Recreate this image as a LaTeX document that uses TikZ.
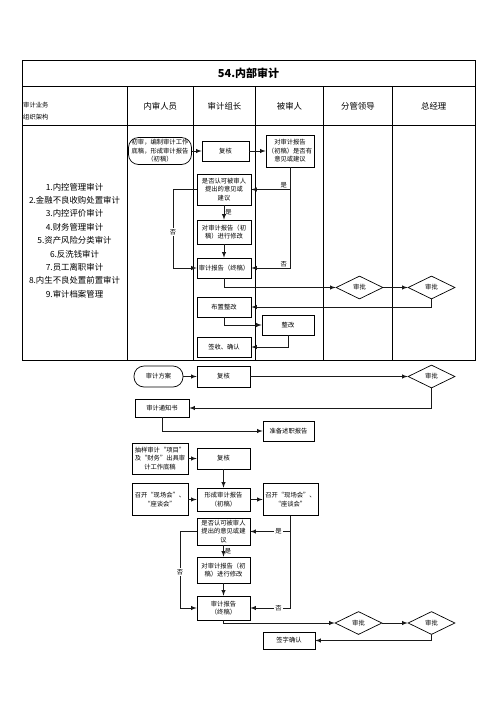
\documentclass[tikz,border=0pt]{standalone}
\usepackage{fontspec}
\setmainfont{Noto Sans CJK SC}
\usetikzlibrary{shapes.geometric}

\begin{document}
\begin{tikzpicture}[x=1pt, y=-1pt, >=latex]
    % Define colours
    \definecolor{borderColour}{HTML}{000000}
    \definecolor{lineColour}{HTML}{1A1A1A}

    % Define styles
    \tikzset{
        box/.style={draw=borderColour, line width=0.7pt, align=center, inner sep=1pt, font=\fontsize{6.3}{8.5}\selectfont},
        pill/.style={box, rounded corners=10pt},
        decision/.style={draw=borderColour, line width=0.7pt, diamond, aspect=2, inner sep=0pt, minimum width=47pt, minimum height=23pt, font=\fontsize{6.3}{8}\selectfont},
        flow/.style={->, line width=0.9pt, draw=lineColour},
        tag/.style={font=\fontsize{6.3}{8}\selectfont, inner sep=1pt},
        grid/.style={line width=0.8pt, draw=borderColour}
    }

    \useasboundingbox (0,0) rectangle (496,702);

    % Draw table frame
    \draw[grid] (22,60) rectangle (475,360);
    \draw[grid] (22,86) -- (475,86);
    \draw[grid] (22,125) -- (475,125);
    \foreach \x in {127.3,193.3,255.7,323.3,392.5}
        \draw[grid] (\x,86) -- (\x,360);

    % Title and column headings
    \node[font=\bfseries\fontsize{11}{13}\selectfont] (title) at (248.5,73) {54.内部审计};
    \node[font=\fontsize{6.3}{8}\selectfont, anchor=west, inner sep=0pt] (orgA) at (23,105) {审计业务};
    \node[font=\fontsize{6.3}{8}\selectfont, anchor=west, inner sep=0pt] (orgB) at (23,117) {组织架构};
    \foreach \x/\name/\txt in {160.3/staff/内审人员, 224.5/leader/审计组长, 289.5/auditee/被审人, 357.9/supervisor/分管领导, 433.7/manager/总经理}
        \node[font=\fontsize{8.4}{10}\selectfont] (\name) at (\x,106) {\txt};

    % Audit areas
    \node[align=center, font=\fontsize{8.4}{13.4}\selectfont] (areas) at (74.5,240.5)
        {1.内控管理审计\\2.金融不良收购处置审计\\3.内控评价审计\\4.财务管理审计\\5.资产风险分类审计\\6.反洗钱审计\\7.员工离职审计\\8.内生不良处置前置审计\\9.审计档案管理};

    % Upper flow
    \node[pill, minimum width=63pt, minimum height=27pt] (init) at (160,151) {初审，编制审计工作\\底稿，形成审计报告\\（初稿）};
    \node[box, minimum width=47pt, minimum height=20pt] (fuheA) at (225.5,151) {复核};
    \node[box, minimum width=48pt, minimum height=32pt] (opinionA) at (290,151) {对审计报告\\（初稿）是否有\\意见或建议};
    \node[box, minimum width=54pt, minimum height=31pt] (acceptA) at (224,189.5) {是否认可被审人\\提出的意见或\\建议};
    \node[box, minimum width=54pt, minimum height=24pt] (reviseA) at (224,232) {对审计报告（初\\稿）进行修改};
    \node[box, minimum width=54pt, minimum height=20pt] (finalA) at (224,268) {审计报告（终稿）};
    \node[decision] (approveA) at (359.5,287.5) {审批};
    \node[decision] (approveB) at (431.5,287.5) {审批};
    \node[box, minimum width=54pt, minimum height=20pt] (layout) at (224,307) {布置整改};
    \node[box, minimum width=52pt, minimum height=20pt] (fix) at (288,325) {整改};
    \node[box, minimum width=54pt, minimum height=20pt] (receipt) at (224,347) {签收、确认};

    \draw[flow] (init) -- (fuheA);
    \draw[flow] (fuheA) -- (opinionA);
    \draw[flow] (opinionA.south) |- (acceptA.east) node[tag, pos=0.58, above] {是};
    \draw[flow] (opinionA.south) |- (finalA.east) node[tag, pos=0.58, above] {否};
    \draw[flow] (acceptA) -- (reviseA) node[tag, midway, right] {是};
    \coordinate (noTurnA) at (173,189.5);
    \draw[flow] (acceptA.west) -- (noTurnA) |- (finalA.west) node[tag, fill=white, pos=0.27] {否};
    \draw[flow] (reviseA) -- (finalA);
    \draw[flow] (finalA.south) |- (approveA.west);
    \draw[flow] (approveA) -- (approveB);
    \draw[flow] (approveB.south) |- (layout.east);
    \draw[flow] (layout.south) |- (fix.west);
    \draw[flow] (fix.south) |- (receipt.east);

    % Lower flow
    \node[pill, minimum width=49pt, minimum height=21pt] (plan) at (158.5,376.5) {审计方案};
    \node[box, minimum width=53pt, minimum height=21pt] (fuheB) at (223.5,376.5) {复核};
    \node[decision] (approveC) at (431.5,376.5) {审批};
    \node[box, minimum width=54pt, minimum height=18pt] (notice) at (162,408) {审计通知书};
    \node[box, minimum width=51pt, minimum height=20pt] (report) at (288.5,431) {准备述职报告};
    \node[box, minimum width=56pt, minimum height=31pt] (sample) at (160,458.5) {抽样审计“项目”\\及“财务”出具审\\计工作底稿};
    \node[box, minimum width=53pt, minimum height=21pt] (fuheC) at (223.5,458.5) {复核};
    \node[box, minimum width=56pt, minimum height=32pt] (meetL) at (160,499.5) {召开“现场会”、\\“座谈会”};
    \node[box, minimum width=53pt, minimum height=23pt] (draft) at (223.5,499.5) {形成审计报告\\（初稿）};
    \node[box, minimum width=55pt, minimum height=32pt] (meetR) at (290.5,499.5) {召开“现场会”、\\“座谈会”};
    \node[box, minimum width=53pt, minimum height=27pt] (acceptB) at (223.5,531.5) {是否认可被审人\\提出的意见或建\\议};
    \node[box, minimum width=53pt, minimum height=26pt] (reviseB) at (223.5,570) {对审计报告（初\\稿）进行修改};
    \node[box, minimum width=53pt, minimum height=24pt] (finalB) at (223.5,608) {审计报告\\（终稿）};
    \node[decision] (approveD) at (358.5,623) {审批};
    \node[decision] (approveE) at (431.5,623) {审批};
    \node[box, minimum width=52pt, minimum height=17pt] (signoff) at (289,640.5) {签字确认};

    \draw[flow] (plan) -- (fuheB);
    \draw[flow] (fuheB) -- (approveC);
    \draw[flow] (approveC.south) |- (notice.east);
    \draw[flow] (notice.south) |- (report.west);
    \draw[flow] (sample) -- (fuheC);
    \draw[flow] (fuheC) -- (draft);
    \draw[flow] (meetL) -- (draft);
    \draw[flow] (draft) -- (meetR);
    \draw[flow] (meetR.south) |- (acceptB.east) node[tag, fill=white, pos=0.65] {是};
    \draw[flow] (meetR.south) |- (finalB.east) node[tag, fill=white, pos=0.65] {否};
    \draw[flow] (acceptB) -- (reviseB) node[tag, midway, right] {是};
    \coordinate (noTurnB) at (180,531.5);
    \draw[flow] (acceptB.west) -- (noTurnB) |- (finalB.west) node[tag, fill=white, pos=0.265] {否};
    \draw[flow] (reviseB) -- (finalB);
    \draw[flow] (finalB.south) |- (approveD.west);
    \draw[flow] (approveD) -- (approveE);
    \draw[flow] (approveE.south) |- (signoff.east);

\end{tikzpicture}
\end{document}
